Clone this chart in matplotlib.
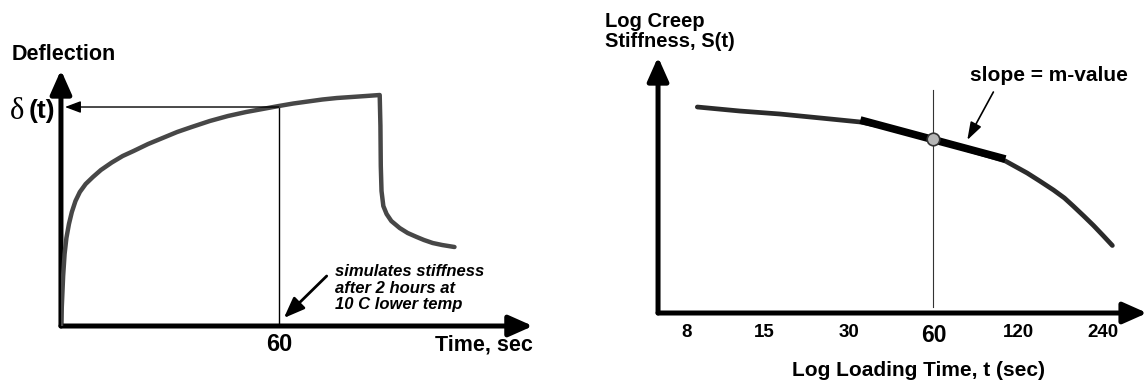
import numpy as np
import matplotlib.pyplot as plt

plt.rcParams['font.family'] = ['Liberation Sans', 'DejaVu Sans']
plt.rcParams['font.weight'] = 'bold'

# left: deflection vs time during the bending beam test
defl_time = [0, 0.3, 0.6, 1.0, 1.5, 2.2, 3.0, 4.0, 5.2, 6.8, 8.8, 11, 14, 17, 20,
             24, 28, 32, 36, 41, 46, 51, 55.5, 60, 64, 68, 72, 76, 80, 84, 87.8,
             88.0, 88.1, 88.3, 88.8, 89.7, 91, 93.3, 95.5, 98, 100, 102.4, 105, 108.4]
defl = [0, 0.25, 0.5, 0.72, 0.88, 1.02, 1.14, 1.25, 1.34, 1.42, 1.49, 1.56, 1.635,
        1.70, 1.75, 1.82, 1.88, 1.94, 1.99, 2.05, 2.10, 2.14, 2.17, 2.20, 2.225,
        2.245, 2.265, 2.28, 2.29, 2.30, 2.31,
        2.0, 1.6, 1.35, 1.20, 1.12, 1.05, 0.98, 0.93, 0.89, 0.86, 0.83, 0.81, 0.79]
t_read = 60
defl_read = 2.19

# right: log creep stiffness vs log loading time
load_time = [8.7, 12.3, 17.1, 23.8, 33.0, 42.1, 60, 77.8, 108, 129, 143, 160,
             175, 188, 205, 222, 240, 259]
stiffness = [2.06, 2.02, 1.99, 1.95, 1.91, 1.85, 1.74, 1.64, 1.52, 1.40, 1.32,
             1.23, 1.15, 1.07, 0.97, 0.875, 0.775, 0.675]
tangent_time = [33.0, 108]
tangent_s = [1.93, 1.54]
s_read = 1.74
tick_vals = [8, 15, 30, 60, 120, 240]
tick_labels = ['8', '15', '30', '60', '120', '240']

fig = plt.figure(figsize=(11.48, 3.87), dpi=100)
ax1 = fig.add_axes([0.0531, 0.1576, 0.4111, 0.6615])
ax2 = fig.add_axes([0.5732, 0.1912, 0.426, 0.6615])

axis_arrow = dict(arrowstyle='-|>,head_length=0.9,head_width=0.4', lw=3.6,
                  color='black', mutation_scale=16, shrinkA=0, shrinkB=0)

for ax in (ax1, ax2):
    for s in ax.spines.values():
        s.set_visible(False)
    ax.set_yticks([])
    ax.tick_params(axis='x', length=0)
    ax.set_ylim(0, 2.56)
    ax.annotate('', xy=(1, 0), xytext=(0, 0), xycoords='axes fraction',
                arrowprops=axis_arrow, annotation_clip=False)
    ax.annotate('', xy=(0, 1), xytext=(0, 0), xycoords='axes fraction',
                arrowprops=axis_arrow, annotation_clip=False)

# ---- left panel ----
ax1.set_xlim(0, 130)
ax1.plot(defl_time, defl, color='#474747', lw=3.2, solid_capstyle='round',
         solid_joinstyle='round', zorder=3)
ax1.plot([t_read, t_read], [0, defl_read], color='black', lw=1.0)
ax1.annotate('', xy=(1.1, defl_read), xytext=(t_read, defl_read),
             arrowprops=dict(arrowstyle='-|>,head_length=0.8,head_width=0.3',
                             lw=1.0, color='black', mutation_scale=12,
                             shrinkA=0, shrinkB=0))
ax1.set_xticks([t_read])
ax1.set_xticklabels(['60'], fontsize=17, fontweight='bold')
ax1.tick_params(axis='x', pad=5)

ax1.text(-1.6, defl_read - 0.04, '(t)', fontsize=19, fontweight='bold',
         ha='right', va='center')
ax1.text(-10.0, defl_read - 0.04, 'δ', fontsize=22, fontweight='normal',
         family='Liberation Serif', ha='right', va='center')
ax1.text(-0.104, 1.059, 'Deflection', transform=ax1.transAxes, fontsize=15.5,
         ha='left', va='center')
ax1.text(1.0, -0.074, 'Time, sec', transform=ax1.transAxes, fontsize=15.5,
         ha='right', va='center')
ax1.text(75.5, 0.38, 'simulates stiffness\nafter 2 hours at\n10 C lower temp',
         fontsize=12, style='italic', ha='left', va='center', linespacing=1.15)
ax1.annotate('', xy=(61.4, 0.08), xytext=(73.2, 0.50),
             arrowprops=dict(arrowstyle='-|>,head_length=0.9,head_width=0.35',
                             lw=2.0, color='black', mutation_scale=14,
                             shrinkA=0, shrinkB=0))

# ---- right panel ----
ax2.set_xscale('log')
ax2.set_xlim(6.31, 344)
ax2.minorticks_off()
ax2.plot(load_time, stiffness, color='#2b2b2b', lw=3.4, solid_capstyle='round',
         solid_joinstyle='round', zorder=3)
ax2.plot(tangent_time, tangent_s, color='black', lw=5.5, solid_capstyle='butt',
         zorder=4)
ax2.plot([t_read, t_read], [0.06, 2.23], color='#333333', lw=0.8, zorder=2)
ax2.plot([t_read], [s_read], 'o', ms=9, mfc='#b5b5b5', mec='#333333', mew=1.2,
         zorder=5)
ax2.set_xticks(tick_vals)
ax2.set_xticklabels(tick_labels, fontsize=13.5, fontweight='bold')
ax2.get_xticklabels()[3].set_fontsize(16.5)
ax2.tick_params(axis='x', pad=8)

ax2.text(-0.108, 1.10, 'Log Creep\nStiffness, S(t)', transform=ax2.transAxes,
         fontsize=14.5, ha='left', va='center', linespacing=1.12)
ax2.text(81, 2.38, 'slope = m-value', fontsize=15, ha='left', va='center')
ax2.annotate('', xy=(79.1, 1.73), xytext=(97.9, 2.21),
             arrowprops=dict(arrowstyle='-|>,head_length=0.9,head_width=0.3',
                             lw=1.2, color='black', mutation_scale=12,
                             shrinkA=0, shrinkB=0))
ax2.text(0.532, -0.223, 'Log Loading Time, t (sec)', transform=ax2.transAxes,
         fontsize=15, ha='center', va='center')

fig.savefig('out.png', dpi=100, facecolor='white')
